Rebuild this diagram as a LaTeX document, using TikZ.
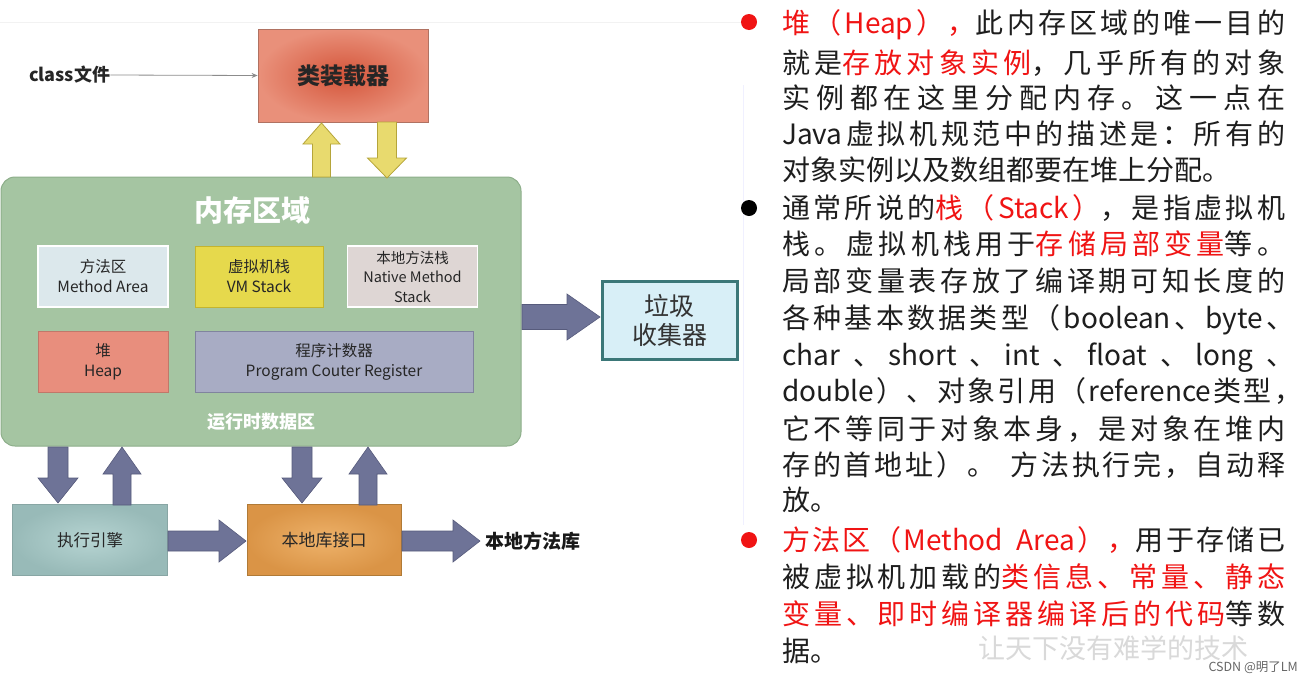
\documentclass[tikz,border=0pt]{standalone}
\usepackage{fontspec}
\setmainfont{Noto Sans CJK SC}
\usetikzlibrary{arrows.meta}
\newXeTeXintercharclass\mycjk
\newcount\cjkc
\cjkc="3000 \loop \XeTeXcharclass\cjkc=\mycjk \advance\cjkc by 1 \ifnum\cjkc<"A000 \repeat
\cjkc="FF00 \loop \XeTeXcharclass\cjkc=\mycjk \advance\cjkc by 1 \ifnum\cjkc<"FFF0 \repeat
\newcommand\cg{\hskip0pt plus 1pt\relax}
\XeTeXinterchartoks 0 \mycjk = {\cg}
\XeTeXinterchartoks \mycjk 0 = {\cg}
\XeTeXinterchartoks \mycjk \mycjk = {\cg}
\XeTeXinterchartokenstate=1
\definecolor{tred}{HTML}{F01414}
\definecolor{tblk}{HTML}{1E1E1E}
\definecolor{ldIn}{HTML}{D4553A}
\definecolor{ldOut}{HTML}{E9907A}
\definecolor{ldB}{HTML}{B07262}
\definecolor{memF}{HTML}{A5C5A2}
\definecolor{memB}{HTML}{8DAE8A}
\definecolor{maF}{HTML}{DCE8EC}
\definecolor{vmF}{HTML}{E6D94C}
\definecolor{vmB}{HTML}{C4B42E}
\definecolor{nmF}{HTML}{DED6D4}
\definecolor{hpF}{HTML}{E88E7D}
\definecolor{hpB}{HTML}{C0786A}
\definecolor{pcF}{HTML}{A8ACC4}
\definecolor{pcB}{HTML}{80849E}
\definecolor{gcF}{HTML}{D8EFF7}
\definecolor{gcB}{HTML}{3B7778}
\definecolor{eeIn}{HTML}{B6D4D2}
\definecolor{eeOut}{HTML}{98BAB8}
\definecolor{eeB}{HTML}{88A6A4}
\definecolor{niIn}{HTML}{EEB26A}
\definecolor{niOut}{HTML}{DA9446}
\definecolor{niB}{HTML}{B07A36}
\definecolor{arF}{HTML}{6E7397}
\definecolor{arB}{HTML}{575B7C}
\definecolor{yaF}{HTML}{E8DA6E}
\definecolor{yaB}{HTML}{B5A53A}
\newcommand\R[1]{\textcolor{tred}{#1}}
\newcommand\vArrow[7]{\filldraw[#7] ({#1-#5},#2) -- ({#1+#5},#2) -- ({#1+#5},#3) -- ({#1+#6},#3) -- (#1,#4) -- ({#1-#6},#3) -- ({#1-#5},#3) -- cycle;}
\newcommand\hArrow[7]{\filldraw[#7] (#2,{#1-#5}) -- (#3,{#1-#5}) -- (#3,{#1-#6}) -- (#4,#1) -- (#3,{#1+#6}) -- (#3,{#1+#5}) -- (#2,{#1+#5}) -- cycle;}
\newcommand\jl[4]{\node[txt] (#1) at (782,#2) {\hbox to #3pt{#4}};}
\newcommand\nl[3]{\node[txt] (#1) at (782,#2) {#3};}
\tikzset{
  box/.style={draw, line width=0.8pt, inner sep=0pt, align=center, text=black!85},
  small/.style={font=\fontsize{15.5}{20}\selectfont},
  slate/.style={fill=arF, draw=arB, line width=0.6pt},
  yel/.style={fill=yaF, draw=yaB, line width=0.8pt},
  txt/.style={anchor=base west, inner sep=0pt, text=tblk, font=\fontsize{28}{28}\selectfont},
  bullet/.style={circle, inner sep=0pt, minimum size=16pt}
}
\begin{document}
\begin{tikzpicture}[x=1pt,y=-1pt]
\useasboundingbox (0,0) rectangle (1311,683);
\fill[white] (0,0) rectangle (1311,683);
% faint frame lines
\draw[color=black!5, line width=1pt] (0,22) -- (745,22);
\draw[color=blue!6, line width=1pt] (743,85) -- (743,525);

% class loader
\node[box, minimum width=170pt, minimum height=93pt, draw=ldB, inner color=ldIn, outer color=ldOut,
  font=\bfseries\fontsize{23}{23}\selectfont] (loader) at (343,75.5) {类装载器};
\node[anchor=west, inner sep=0pt, font=\bfseries\fontsize{18}{18}\selectfont, text=black!85] (cls) at (29,75) {class文件};
\draw[color=black!45, line width=0.8pt, -{Stealth[length=6pt,width=5pt]}] (cls.east) -- (loader.west);

% memory area
\node[draw=memB, fill=memF, line width=1pt, rounded corners=14pt, minimum width=520pt, minimum height=269pt, inner sep=0pt] (mem) at (261,311.5) {};
\node[text=white, font=\bfseries\fontsize{29}{29}\selectfont] (memt) at (252,210) {内存区域};
\node[box, small, minimum width=130pt, minimum height=61pt, fill=maF, draw=white, line width=1.5pt] (ma) at (103,276.5) {方法区\\Method Area};
\node[box, small, minimum width=128pt, minimum height=61pt, fill=vmF, draw=vmB] (vm) at (259,276.5) {虚拟机栈\\VM Stack};
\node[box, minimum width=130pt, minimum height=61pt, fill=nmF, draw=white, line width=1.5pt, font=\fontsize{14.5}{19.5}\selectfont] (nm) at (412.5,276.5) {本地方法栈\\Native Method\\Stack};
\node[box, small, minimum width=130pt, minimum height=61pt, fill=hpF, draw=hpB] (hp) at (103,362) {堆\\Heap};
\node[box, small, minimum width=278pt, minimum height=61pt, fill=pcF, draw=pcB] (pc) at (334,362) {程序计数器\\Program Couter Register};
\node[text=white, font=\bfseries\fontsize{18}{18}\selectfont] (rt) at (261,422) {运行时数据区};

% garbage collector
\node[box, minimum width=135pt, minimum height=78pt, fill=gcF, draw=gcB, line width=3pt, text=black!80,
  font=\fontsize{25}{29}\selectfont] (gc) at (669.5,320) {垃圾\\收集器};

% bottom boxes
\node[box, minimum width=155pt, minimum height=71pt, inner color=eeIn, outer color=eeOut, draw=eeB,
  font=\fontsize{16.5}{16.5}\selectfont] (ee) at (90,540) {执行引擎};
\node[box, minimum width=154pt, minimum height=71pt, inner color=niIn, outer color=niOut, draw=niB,
  font=\fontsize{17}{17}\selectfont] (ni) at (324,540) {本地库接口};
\node[anchor=west, inner sep=0pt, font=\bfseries\fontsize{19}{19}\selectfont, text=black!90] (nl) at (485,541) {本地方法库};

% yellow arrows
\vArrow{321.5}{177}{144}{123}{9}{18.5}{yel}
\vArrow{387}{122}{158}{178}{9.5}{19.5}{yel}
% slate arrows
\hArrow{317}{522}{567}{600}{12.5}{23}{slate}
\vArrow{58}{447}{478}{503}{10}{20}{slate}
\vArrow{122}{505}{474}{447}{9}{19}{slate}
\vArrow{302}{447}{478}{503}{10}{20}{slate}
\vArrow{368}{505}{474}{447}{9}{19}{slate}
\hArrow{541}{168}{219}{246}{10}{21}{slate}
\hArrow{541}{402}{453}{480}{10}{21}{slate}

% right text
\node[bullet, fill=tred] (b1) at (749,22) {};
\node[bullet, fill=black] (b2) at (749,208) {};
\node[bullet, fill=tred] (b3) at (749,540) {};
\jl{t1}{33.5}{503}{\R{堆（Heap），}此内存区域的唯一目的}
\jl{t2}{73.5}{503}{就是\R{存放对象实例}，几乎所有的对象}
\jl{t3}{108.5}{503}{实例都在这里分配内存。这一点在}
\jl{t4}{144.5}{503}{Java虚拟机规范中的描述是：所有的}
\nl{t5}{180.5}{对象实例以及数组都要在堆上分配。}
\jl{t6}{218.5}{503}{通常所说的\R{栈（Stack）}，是指虚拟机}
\jl{t7}{254.5}{503}{栈。虚拟机栈用于\R{存储局部变量}等。}
\jl{t8}{291.5}{503}{局部变量表存放了编译期可知长度的}
\jl{t9}{328.5}{512}{各种基本数据类型（boolean、byte、}
\jl{t10}{365.5}{512}{char \hfil、\hfil short \hfil、\hfil int \hfil、\hfil float \hfil、\hfil long \hfil、}
\jl{t11}{401.5}{520}{double）、对象引用（reference类型，}
\jl{t12}{439.5}{503}{它不等同于对象本身，是对象在堆内}
\jl{t13}{475.5}{503}{存的首地址）。 方法执行完，自动释}
\nl{t14}{510.5}{放。}
\jl{t15}{550.5}{503}{\R{方法区（Method Area），}用于存储已}
\jl{t16}{587.5}{503}{被虚拟机加载的\R{类信息、常量、静态}}
\jl{t17}{624.5}{503}{\R{变量、即时编译器编译后的代码}等数}
\nl{t18}{661.5}{据。}

% watermark
\node[anchor=west, inner sep=0pt, text=black!15, font=\fontsize{27}{27}\selectfont] (wm) at (978,648) {让天下没有难学的技术};
\node[anchor=east, inner sep=0pt, text=black!60, font=\fontsize{12.5}{12.5}\selectfont] (csdn) at (1298,668) {CSDN @明了LM};
\end{tikzpicture}
\end{document}
